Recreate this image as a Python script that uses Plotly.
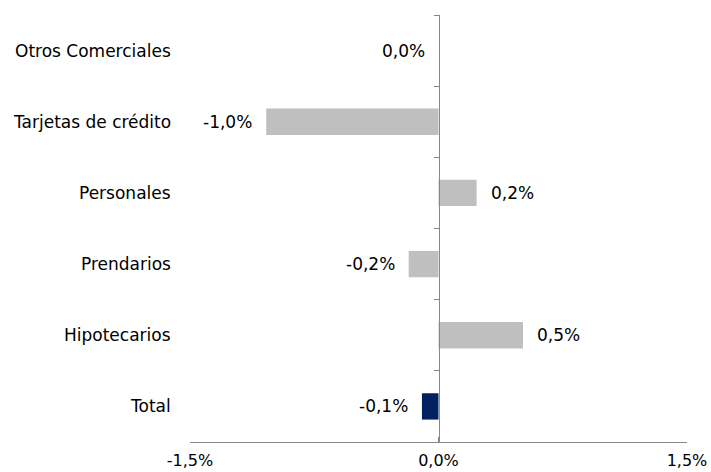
import plotly.graph_objects as go

# Variation by loan type (percent)
categories = ["Otros Comerciales", "Tarjetas de crédito", "Personales",
              "Prendarios", "Hipotecarios", "Total"]
values = [0.0, -1.04, 0.23, -0.18, 0.51, -0.10]
tick_vals = [-1.5, 0.0, 1.5]
tick_text = ["-1,5%", "0,0%", "1,5%"]

GRAY = "#BFBFBF"
NAVY = "#002060"
AXIS = "#888888"
FONT = "DejaVu Sans, Verdana, sans-serif"
SIZE = 17

colors = [NAVY if c == "Total" else GRAY for c in categories]

fig = go.Figure()
fig.add_trace(go.Bar(
    x=values, y=categories, orientation="h",
    marker=dict(color=colors, line=dict(width=0)),
    width=0.37, hoverinfo="skip",
))

def fmt(v):
    return f"{v:.1f}".replace(".", ",").replace("-0,0", "0,0") + "%"

annotations = []
for cat, v in zip(categories, values):
    pos = v > 0
    annotations.append(dict(
        x=v, y=cat, xref="x", yref="y", text=fmt(v), showarrow=False,
        xanchor="left" if pos else "right", xshift=12 if pos else -12,
        font=dict(family=FONT, size=SIZE, color="#000000"),
    ))
    annotations.append(dict(
        x=0, y=cat, xref="paper", yref="y", text=cat, showarrow=False,
        xanchor="right", xshift=-17,
        font=dict(family=FONT, size=SIZE, color="#000000"),
    ))

fig.update_layout(
    width=711, height=472,
    margin=dict(l=190, r=24, t=15, b=30, autoexpand=False),
    paper_bgcolor="white", plot_bgcolor="white",
    showlegend=False, bargap=0.63,
    annotations=annotations,
    xaxis=dict(
        range=[-1.5, 1.5], tickvals=tick_vals, ticktext=tick_text,
        showgrid=False, zeroline=False, showline=True, linecolor=AXIS,
        linewidth=1, ticks="inside", ticklen=5, tickcolor=AXIS,
        ticklabelstandoff=4, automargin=False,
        tickfont=dict(family=FONT, size=16, color="#000000"),
        fixedrange=True,
    ),
    yaxis=dict(
        categoryorder="array", categoryarray=categories[::-1],
        anchor="free", position=0.5, showline=True, linecolor=AXIS,
        linewidth=1, ticks="outside", ticklen=5, tickcolor=AXIS,
        tickson="boundaries", showticklabels=False, showgrid=False,
        zeroline=False, fixedrange=True, automargin=False,
    ),
)

fig.write_html("out.html")
